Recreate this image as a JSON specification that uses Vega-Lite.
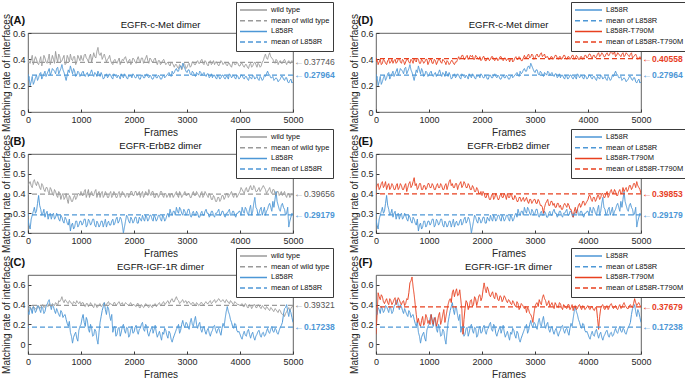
{
"$schema":"https://vega.github.io/schema/vega-lite/v6.json",
"padding":{"left":1,"top":1,"right":0,"bottom":0},
"background":"white",
"datasets":{
"met":[
{"f":0,"w":0.41,"l":0.24,"t":0.38},{"f":40,"w":0.37,"l":0.20,"t":0.36},{"f":80,"w":0.43,"l":0.27,"t":0.40},{"f":120,"w":0.39,"l":0.23,"t":0.37},{"f":160,"w":0.40,"l":0.28,"t":0.39},{"f":200,"w":0.36,"l":0.26,"t":0.36},{"f":240,"w":0.42,"l":0.30,"t":0.40},{"f":280,"w":0.38,"l":0.27,"t":0.38},{"f":320,"w":0.41,"l":0.31,"t":0.37},{"f":360,"w":0.37,"l":0.29,"t":0.40},{"f":400,"w":0.44,"l":0.33,"t":0.38},{"f":440,"w":0.39,"l":0.30,"t":0.41},{"f":480,"w":0.40,"l":0.32,"t":0.37},{"f":520,"w":0.46,"l":0.29,"t":0.39},{"f":560,"w":0.38,"l":0.34,"t":0.38},{"f":600,"w":0.42,"l":0.31,"t":0.40},{"f":640,"w":0.39,"l":0.36,"t":0.37},{"f":680,"w":0.43,"l":0.30,"t":0.39},{"f":720,"w":0.37,"l":0.24,"t":0.41},{"f":760,"w":0.41,"l":0.32,"t":0.38},{"f":800,"w":0.44,"l":0.35,"t":0.40},{"f":840,"w":0.39,"l":0.29,"t":0.37},{"f":880,"w":0.42,"l":0.31,"t":0.39},{"f":920,"w":0.38,"l":0.28,"t":0.38},{"f":960,"w":0.41,"l":0.30,"t":0.40},
{"f":1000,"w":0.43,"l":0.28,"t":0.38},{"f":1040,"w":0.39,"l":0.31,"t":0.40},{"f":1080,"w":0.44,"l":0.27,"t":0.37},{"f":1120,"w":0.40,"l":0.30,"t":0.39},{"f":1160,"w":0.42,"l":0.28,"t":0.38},{"f":1200,"w":0.38,"l":0.32,"t":0.40},{"f":1240,"w":0.45,"l":0.27,"t":0.37},{"f":1280,"w":0.41,"l":0.29,"t":0.39},{"f":1320,"w":0.49,"l":0.31,"t":0.36},{"f":1360,"w":0.43,"l":0.27,"t":0.38},{"f":1400,"w":0.40,"l":0.28,"t":0.37},{"f":1440,"w":0.44,"l":0.26,"t":0.39},{"f":1480,"w":0.38,"l":0.29,"t":0.36},{"f":1520,"w":0.41,"l":0.27,"t":0.38},{"f":1560,"w":0.39,"l":0.28,"t":0.42},{"f":1600,"w":0.36,"l":0.25,"t":0.41},{"f":1640,"w":0.40,"l":0.28,"t":0.43},{"f":1680,"w":0.37,"l":0.26,"t":0.40},{"f":1720,"w":0.41,"l":0.27,"t":0.43},{"f":1760,"w":0.38,"l":0.29,"t":0.41},{"f":1800,"w":0.39,"l":0.26,"t":0.42},{"f":1840,"w":0.42,"l":0.28,"t":0.40},{"f":1880,"w":0.37,"l":0.25,"t":0.43},{"f":1920,"w":0.40,"l":0.27,"t":0.41},{"f":1960,"w":0.38,"l":0.26,"t":0.42},
{"f":2000,"w":0.40,"l":0.28,"t":0.40},{"f":2040,"w":0.37,"l":0.26,"t":0.42},{"f":2080,"w":0.42,"l":0.27,"t":0.39},{"f":2120,"w":0.38,"l":0.25,"t":0.41},{"f":2160,"w":0.41,"l":0.28,"t":0.40},{"f":2200,"w":0.39,"l":0.26,"t":0.42},{"f":2240,"w":0.43,"l":0.29,"t":0.39},{"f":2280,"w":0.37,"l":0.26,"t":0.41},{"f":2320,"w":0.40,"l":0.27,"t":0.40},{"f":2360,"w":0.38,"l":0.25,"t":0.42},{"f":2400,"w":0.41,"l":0.28,"t":0.39},{"f":2440,"w":0.36,"l":0.26,"t":0.41},{"f":2480,"w":0.39,"l":0.27,"t":0.40},{"f":2520,"w":0.37,"l":0.25,"t":0.38},{"f":2560,"w":0.40,"l":0.28,"t":0.41},{"f":2600,"w":0.36,"l":0.27,"t":0.39},{"f":2640,"w":0.38,"l":0.29,"t":0.42},{"f":2680,"w":0.35,"l":0.28,"t":0.40},{"f":2720,"w":0.37,"l":0.31,"t":0.41},{"f":2760,"w":0.34,"l":0.30,"t":0.39},{"f":2800,"w":0.36,"l":0.33,"t":0.43},{"f":2840,"w":0.33,"l":0.31,"t":0.41},{"f":2880,"w":0.35,"l":0.35,"t":0.44},{"f":2920,"w":0.34,"l":0.37,"t":0.42},{"f":2960,"w":0.36,"l":0.33,"t":0.43},
{"f":3000,"w":0.34,"l":0.30,"t":0.41},{"f":3040,"w":0.37,"l":0.32,"t":0.44},{"f":3080,"w":0.35,"l":0.28,"t":0.42},{"f":3120,"w":0.38,"l":0.30,"t":0.45},{"f":3160,"w":0.36,"l":0.27,"t":0.43},{"f":3200,"w":0.39,"l":0.29,"t":0.41},{"f":3240,"w":0.37,"l":0.31,"t":0.42},{"f":3280,"w":0.40,"l":0.28,"t":0.40},{"f":3320,"w":0.36,"l":0.30,"t":0.42},{"f":3360,"w":0.38,"l":0.27,"t":0.41},{"f":3400,"w":0.35,"l":0.29,"t":0.43},{"f":3440,"w":0.39,"l":0.27,"t":0.40},{"f":3480,"w":0.37,"l":0.26,"t":0.42},{"f":3520,"w":0.36,"l":0.28,"t":0.41},{"f":3560,"w":0.38,"l":0.25,"t":0.43},{"f":3600,"w":0.35,"l":0.27,"t":0.40},{"f":3640,"w":0.39,"l":0.26,"t":0.42},{"f":3680,"w":0.36,"l":0.28,"t":0.41},{"f":3720,"w":0.38,"l":0.25,"t":0.43},{"f":3760,"w":0.35,"l":0.27,"t":0.41},{"f":3800,"w":0.37,"l":0.29,"t":0.42},{"f":3840,"w":0.34,"l":0.26,"t":0.40},{"f":3880,"w":0.38,"l":0.28,"t":0.42},{"f":3920,"w":0.36,"l":0.25,"t":0.41},{"f":3960,"w":0.37,"l":0.27,"t":0.43},
{"f":4000,"w":0.35,"l":0.26,"t":0.42},{"f":4040,"w":0.37,"l":0.28,"t":0.44},{"f":4080,"w":0.34,"l":0.25,"t":0.41},{"f":4120,"w":0.36,"l":0.27,"t":0.43},{"f":4160,"w":0.33,"l":0.24,"t":0.42},{"f":4200,"w":0.37,"l":0.26,"t":0.45},{"f":4240,"w":0.35,"l":0.28,"t":0.43},{"f":4280,"w":0.38,"l":0.25,"t":0.44},{"f":4320,"w":0.34,"l":0.27,"t":0.42},{"f":4360,"w":0.36,"l":0.24,"t":0.45},{"f":4400,"w":0.35,"l":0.26,"t":0.43},{"f":4440,"w":0.39,"l":0.25,"t":0.47},{"f":4480,"w":0.44,"l":0.27,"t":0.44},{"f":4520,"w":0.40,"l":0.31,"t":0.42},{"f":4560,"w":0.45,"l":0.28,"t":0.45},{"f":4600,"w":0.41,"l":0.26,"t":0.43},{"f":4640,"w":0.38,"l":0.24,"t":0.44},{"f":4680,"w":0.40,"l":0.26,"t":0.42},{"f":4720,"w":0.36,"l":0.23,"t":0.45},{"f":4760,"w":0.39,"l":0.25,"t":0.43},{"f":4800,"w":0.37,"l":0.27,"t":0.44},{"f":4840,"w":0.40,"l":0.24,"t":0.41},{"f":4880,"w":0.36,"l":0.26,"t":0.43},{"f":4920,"w":0.39,"l":0.22,"t":0.42},{"f":4960,"w":0.37,"l":0.25,"t":0.41},{"f":5000,"w":0.38,"l":0.23,"t":0.40},
{"f":20,"w":0.38,"l":0.27,"t":0.40},{"f":60,"w":0.40,"l":0.23,"t":0.38},{"f":100,"w":0.36,"l":0.21,"t":0.36},{"f":140,"w":0.42,"l":0.26,"t":0.40},{"f":180,"w":0.37,"l":0.24,"t":0.37},{"f":220,"w":0.39,"l":0.29,"t":0.39},{"f":260,"w":0.35,"l":0.25,"t":0.37},{"f":300,"w":0.43,"l":0.29,"t":0.40},{"f":340,"w":0.38,"l":0.27,"t":0.39},{"f":380,"w":0.40,"l":0.31,"t":0.37},{"f":420,"w":0.36,"l":0.28,"t":0.40},{"f":460,"w":0.43,"l":0.33,"t":0.38},{"f":500,"w":0.37,"l":0.31,"t":0.40},{"f":540,"w":0.41,"l":0.33,"t":0.36},{"f":580,"w":0.44,"l":0.29,"t":0.40},{"f":620,"w":0.38,"l":0.33,"t":0.38},{"f":660,"w":0.41,"l":0.32,"t":0.40},{"f":700,"w":0.36,"l":0.27,"t":0.37},{"f":740,"w":0.43,"l":0.28,"t":0.39},{"f":780,"w":0.38,"l":0.30,"t":0.41},{"f":820,"w":0.40,"l":0.32,"t":0.37},{"f":860,"w":0.42,"l":0.33,"t":0.40},{"f":900,"w":0.36,"l":0.27,"t":0.37},{"f":940,"w":0.43,"l":0.31,"t":0.40},{"f":980,"w":0.39,"l":0.27,"t":0.36},
{"f":1020,"w":0.40,"l":0.30,"t":0.40},{"f":1060,"w":0.43,"l":0.28,"t":0.37},{"f":1100,"w":0.41,"l":0.29,"t":0.40},{"f":1140,"w":0.38,"l":0.27,"t":0.36},{"f":1180,"w":0.44,"l":0.30,"t":0.40},{"f":1220,"w":0.41,"l":0.29,"t":0.38},{"f":1260,"w":0.42,"l":0.30,"t":0.40},{"f":1300,"w":0.46,"l":0.27,"t":0.38},{"f":1340,"w":0.44,"l":0.29,"t":0.39},{"f":1380,"w":0.45,"l":0.30,"t":0.36},{"f":1420,"w":0.42,"l":0.25,"t":0.39},{"f":1460,"w":0.41,"l":0.28,"t":0.37},{"f":1500,"w":0.40,"l":0.26,"t":0.38},{"f":1540,"w":0.43,"l":0.29,"t":0.40},{"f":1580,"w":0.37,"l":0.26,"t":0.40},{"f":1620,"w":0.39,"l":0.29,"t":0.43},{"f":1660,"w":0.38,"l":0.27,"t":0.40},{"f":1700,"w":0.39,"l":0.28,"t":0.42},{"f":1740,"w":0.36,"l":0.25,"t":0.40},{"f":1780,"w":0.40,"l":0.27,"t":0.43},{"f":1820,"w":0.41,"l":0.29,"t":0.43},{"f":1860,"w":0.39,"l":0.26,"t":0.40},{"f":1900,"w":0.39,"l":0.28,"t":0.42},{"f":1940,"w":0.36,"l":0.28,"t":0.40},{"f":1980,"w":0.41,"l":0.29,"t":0.39},
{"f":2020,"w":0.38,"l":0.26,"t":0.42},{"f":2060,"w":0.40,"l":0.28,"t":0.39},{"f":2100,"w":0.39,"l":0.25,"t":0.41},{"f":2140,"w":0.41,"l":0.28,"t":0.39},{"f":2180,"w":0.37,"l":0.26,"t":0.42},{"f":2220,"w":0.41,"l":0.28,"t":0.40},{"f":2260,"w":0.39,"l":0.27,"t":0.41},{"f":2300,"w":0.41,"l":0.28,"t":0.39},{"f":2340,"w":0.38,"l":0.25,"t":0.42},{"f":2380,"w":0.40,"l":0.27,"t":0.40},{"f":2420,"w":0.38,"l":0.26,"t":0.41},{"f":2460,"w":0.39,"l":0.28,"t":0.39},{"f":2500,"w":0.36,"l":0.25,"t":0.41},{"f":2540,"w":0.39,"l":0.27,"t":0.40},{"f":2580,"w":0.38,"l":0.26,"t":0.38},{"f":2620,"w":0.37,"l":0.28,"t":0.41},{"f":2660,"w":0.36,"l":0.30,"t":0.40},{"f":2700,"w":0.38,"l":0.27,"t":0.42},{"f":2740,"w":0.36,"l":0.29,"t":0.39},{"f":2780,"w":0.36,"l":0.32,"t":0.41},{"f":2820,"w":0.34,"l":0.31,"t":0.41},{"f":2860,"w":0.36,"l":0.34,"t":0.43},{"f":2900,"w":0.32,"l":0.33,"t":0.41},{"f":2940,"w":0.37,"l":0.35,"t":0.44},{"f":2980,"w":0.33,"l":0.31,"t":0.40},
{"f":3020,"w":0.36,"l":0.32,"t":0.43},{"f":3060,"w":0.34,"l":0.29,"t":0.42},{"f":3100,"w":0.38,"l":0.31,"t":0.44},{"f":3140,"w":0.36,"l":0.28,"t":0.42},{"f":3180,"w":0.38,"l":0.30,"t":0.44},{"f":3220,"w":0.37,"l":0.28,"t":0.42},{"f":3260,"w":0.39,"l":0.30,"t":0.40},{"f":3300,"w":0.37,"l":0.29,"t":0.42},{"f":3340,"w":0.39,"l":0.28,"t":0.40},{"f":3380,"w":0.36,"l":0.29,"t":0.43},{"f":3420,"w":0.38,"l":0.26,"t":0.41},{"f":3460,"w":0.36,"l":0.29,"t":0.42},{"f":3500,"w":0.39,"l":0.28,"t":0.40},{"f":3540,"w":0.38,"l":0.26,"t":0.43},{"f":3580,"w":0.36,"l":0.28,"t":0.41},{"f":3620,"w":0.37,"l":0.25,"t":0.42},{"f":3660,"w":0.38,"l":0.28,"t":0.40},{"f":3700,"w":0.37,"l":0.26,"t":0.43},{"f":3740,"w":0.36,"l":0.27,"t":0.40},{"f":3780,"w":0.37,"l":0.25,"t":0.43},{"f":3820,"w":0.35,"l":0.28,"t":0.40},{"f":3860,"w":0.37,"l":0.27,"t":0.42},{"f":3900,"w":0.36,"l":0.26,"t":0.40},{"f":3940,"w":0.38,"l":0.28,"t":0.43},{"f":3980,"w":0.35,"l":0.25,"t":0.41},
{"f":4020,"w":0.37,"l":0.28,"t":0.44},{"f":4060,"w":0.35,"l":0.26,"t":0.42},{"f":4100,"w":0.36,"l":0.27,"t":0.43},{"f":4140,"w":0.34,"l":0.25,"t":0.41},{"f":4180,"w":0.36,"l":0.27,"t":0.44},{"f":4220,"w":0.34,"l":0.25,"t":0.42},{"f":4260,"w":0.37,"l":0.27,"t":0.45},{"f":4300,"w":0.36,"l":0.26,"t":0.42},{"f":4340,"w":0.37,"l":0.25,"t":0.44},{"f":4380,"w":0.34,"l":0.27,"t":0.43},{"f":4420,"w":0.38,"l":0.24,"t":0.45},{"f":4460,"w":0.42,"l":0.28,"t":0.44},{"f":4500,"w":0.41,"l":0.29,"t":0.46},{"f":4540,"w":0.43,"l":0.29,"t":0.43},{"f":4580,"w":0.42,"l":0.26,"t":0.44},{"f":4620,"w":0.40,"l":0.27,"t":0.42},{"f":4660,"w":0.37,"l":0.25,"t":0.45},{"f":4700,"w":0.39,"l":0.25,"t":0.43},{"f":4740,"w":0.38,"l":0.24,"t":0.44},{"f":4780,"w":0.37,"l":0.27,"t":0.42},{"f":4820,"w":0.39,"l":0.25,"t":0.45},{"f":4860,"w":0.38,"l":0.26,"t":0.42},{"f":4900,"w":0.38,"l":0.23,"t":0.44},{"f":4940,"w":0.37,"l":0.24,"t":0.40},{"f":4980,"w":0.39,"l":0.22,"t":0.42}
],
"erb":[
{"f":0,"w":0.44,"l":0.27,"t":0.42},{"f":40,"w":0.46,"l":0.22,"t":0.45},{"f":80,"w":0.43,"l":0.29,"t":0.43},{"f":120,"w":0.47,"l":0.33,"t":0.46},{"f":160,"w":0.44,"l":0.31,"t":0.44},{"f":200,"w":0.45,"l":0.39,"t":0.42},{"f":240,"w":0.42,"l":0.32,"t":0.45},{"f":280,"w":0.44,"l":0.30,"t":0.43},{"f":320,"w":0.41,"l":0.28,"t":0.44},{"f":360,"w":0.43,"l":0.31,"t":0.42},{"f":400,"w":0.40,"l":0.29,"t":0.45},{"f":440,"w":0.42,"l":0.27,"t":0.43},{"f":480,"w":0.39,"l":0.30,"t":0.44},{"f":520,"w":0.41,"l":0.28,"t":0.42},{"f":560,"w":0.38,"l":0.29,"t":0.45},{"f":600,"w":0.40,"l":0.26,"t":0.43},{"f":640,"w":0.39,"l":0.28,"t":0.46},{"f":680,"w":0.37,"l":0.25,"t":0.44},{"f":720,"w":0.40,"l":0.27,"t":0.48},{"f":760,"w":0.35,"l":0.24,"t":0.45},{"f":800,"w":0.38,"l":0.21,"t":0.43},{"f":840,"w":0.36,"l":0.25,"t":0.45},{"f":880,"w":0.39,"l":0.23,"t":0.42},{"f":920,"w":0.38,"l":0.26,"t":0.44},{"f":960,"w":0.40,"l":0.24,"t":0.43},
{"f":1000,"w":0.41,"l":0.26,"t":0.45},{"f":1040,"w":0.39,"l":0.25,"t":0.43},{"f":1080,"w":0.42,"l":0.27,"t":0.44},{"f":1120,"w":0.40,"l":0.24,"t":0.42},{"f":1160,"w":0.38,"l":0.26,"t":0.45},{"f":1200,"w":0.41,"l":0.25,"t":0.43},{"f":1240,"w":0.39,"l":0.27,"t":0.44},{"f":1280,"w":0.42,"l":0.23,"t":0.42},{"f":1320,"w":0.40,"l":0.25,"t":0.45},{"f":1360,"w":0.38,"l":0.24,"t":0.44},{"f":1400,"w":0.41,"l":0.26,"t":0.47},{"f":1440,"w":0.39,"l":0.25,"t":0.45},{"f":1480,"w":0.40,"l":0.23,"t":0.43},{"f":1520,"w":0.38,"l":0.26,"t":0.45},{"f":1560,"w":0.41,"l":0.24,"t":0.44},{"f":1600,"w":0.39,"l":0.27,"t":0.46},{"f":1640,"w":0.40,"l":0.25,"t":0.44},{"f":1680,"w":0.38,"l":0.28,"t":0.45},{"f":1720,"w":0.41,"l":0.26,"t":0.43},{"f":1760,"w":0.39,"l":0.27,"t":0.44},{"f":1800,"w":0.40,"l":0.20,"t":0.42},{"f":1840,"w":0.38,"l":0.26,"t":0.43},{"f":1880,"w":0.40,"l":0.28,"t":0.41},{"f":1920,"w":0.39,"l":0.25,"t":0.42},{"f":1960,"w":0.41,"l":0.27,"t":0.40},
{"f":2000,"w":0.39,"l":0.26,"t":0.39},{"f":2040,"w":0.41,"l":0.28,"t":0.40},{"f":2080,"w":0.40,"l":0.25,"t":0.38},{"f":2120,"w":0.38,"l":0.27,"t":0.39},{"f":2160,"w":0.41,"l":0.29,"t":0.37},{"f":2200,"w":0.39,"l":0.26,"t":0.40},{"f":2240,"w":0.40,"l":0.28,"t":0.38},{"f":2280,"w":0.42,"l":0.27,"t":0.39},{"f":2320,"w":0.39,"l":0.29,"t":0.37},{"f":2360,"w":0.41,"l":0.26,"t":0.40},{"f":2400,"w":0.38,"l":0.28,"t":0.38},{"f":2440,"w":0.40,"l":0.27,"t":0.39},{"f":2480,"w":0.39,"l":0.29,"t":0.40},{"f":2520,"w":0.41,"l":0.26,"t":0.38},{"f":2560,"w":0.38,"l":0.28,"t":0.39},{"f":2600,"w":0.40,"l":0.27,"t":0.37},{"f":2640,"w":0.39,"l":0.30,"t":0.38},{"f":2680,"w":0.38,"l":0.32,"t":0.36},{"f":2720,"w":0.40,"l":0.29,"t":0.38},{"f":2760,"w":0.39,"l":0.31,"t":0.37},{"f":2800,"w":0.41,"l":0.33,"t":0.36},{"f":2840,"w":0.38,"l":0.30,"t":0.38},{"f":2880,"w":0.40,"l":0.32,"t":0.35},{"f":2920,"w":0.39,"l":0.29,"t":0.37},{"f":2960,"w":0.41,"l":0.31,"t":0.36},
{"f":3000,"w":0.39,"l":0.30,"t":0.37},{"f":3040,"w":0.40,"l":0.32,"t":0.35},{"f":3080,"w":0.38,"l":0.28,"t":0.36},{"f":3120,"w":0.41,"l":0.31,"t":0.34},{"f":3160,"w":0.39,"l":0.29,"t":0.30},{"f":3200,"w":0.40,"l":0.30,"t":0.35},{"f":3240,"w":0.38,"l":0.28,"t":0.37},{"f":3280,"w":0.41,"l":0.31,"t":0.34},{"f":3320,"w":0.39,"l":0.29,"t":0.36},{"f":3360,"w":0.40,"l":0.32,"t":0.35},{"f":3400,"w":0.38,"l":0.30,"t":0.33},{"f":3440,"w":0.39,"l":0.29,"t":0.35},{"f":3480,"w":0.37,"l":0.31,"t":0.34},{"f":3520,"w":0.38,"l":0.28,"t":0.32},{"f":3560,"w":0.36,"l":0.30,"t":0.35},{"f":3600,"w":0.38,"l":0.32,"t":0.33},{"f":3640,"w":0.37,"l":0.29,"t":0.34},{"f":3680,"w":0.39,"l":0.31,"t":0.32},{"f":3720,"w":0.38,"l":0.28,"t":0.28},{"f":3760,"w":0.40,"l":0.30,"t":0.33},{"f":3800,"w":0.39,"l":0.32,"t":0.32},{"f":3840,"w":0.41,"l":0.29,"t":0.35},{"f":3880,"w":0.38,"l":0.31,"t":0.34},{"f":3920,"w":0.40,"l":0.28,"t":0.36},{"f":3960,"w":0.39,"l":0.30,"t":0.35},
{"f":4000,"w":0.41,"l":0.31,"t":0.37},{"f":4040,"w":0.42,"l":0.33,"t":0.39},{"f":4080,"w":0.40,"l":0.30,"t":0.36},{"f":4120,"w":0.43,"l":0.32,"t":0.38},{"f":4160,"w":0.41,"l":0.29,"t":0.37},{"f":4200,"w":0.44,"l":0.34,"t":0.39},{"f":4240,"w":0.42,"l":0.31,"t":0.38},{"f":4280,"w":0.43,"l":0.38,"t":0.40},{"f":4320,"w":0.41,"l":0.32,"t":0.38},{"f":4360,"w":0.43,"l":0.30,"t":0.41},{"f":4400,"w":0.42,"l":0.33,"t":0.39},{"f":4440,"w":0.44,"l":0.31,"t":0.42},{"f":4480,"w":0.42,"l":0.29,"t":0.40},{"f":4520,"w":0.41,"l":0.32,"t":0.41},{"f":4560,"w":0.43,"l":0.35,"t":0.39},{"f":4600,"w":0.40,"l":0.31,"t":0.42},{"f":4640,"w":0.42,"l":0.33,"t":0.40},{"f":4680,"w":0.39,"l":0.41,"t":0.41},{"f":4720,"w":0.41,"l":0.34,"t":0.43},{"f":4760,"w":0.40,"l":0.31,"t":0.42},{"f":4800,"w":0.39,"l":0.35,"t":0.44},{"f":4840,"w":0.41,"l":0.32,"t":0.43},{"f":4880,"w":0.38,"l":0.30,"t":0.45},{"f":4920,"w":0.40,"l":0.23,"t":0.46},{"f":4960,"w":0.39,"l":0.28,"t":0.43},{"f":5000,"w":0.39,"l":0.29,"t":0.40},
{"f":20,"w":0.45,"l":0.24,"t":0.44},{"f":60,"w":0.44,"l":0.27,"t":0.42},{"f":100,"w":0.46,"l":0.31,"t":0.45},{"f":140,"w":0.45,"l":0.30,"t":0.43},{"f":180,"w":0.46,"l":0.35,"t":0.46},{"f":220,"w":0.43,"l":0.34,"t":0.44},{"f":260,"w":0.45,"l":0.29,"t":0.42},{"f":300,"w":0.42,"l":0.32,"t":0.45},{"f":340,"w":0.43,"l":0.30,"t":0.42},{"f":380,"w":0.41,"l":0.27,"t":0.44},{"f":420,"w":0.43,"l":0.30,"t":0.42},{"f":460,"w":0.40,"l":0.29,"t":0.45},{"f":500,"w":0.42,"l":0.27,"t":0.42},{"f":540,"w":0.39,"l":0.30,"t":0.44},{"f":580,"w":0.41,"l":0.27,"t":0.41},{"f":620,"w":0.37,"l":0.29,"t":0.45},{"f":660,"w":0.40,"l":0.26,"t":0.43},{"f":700,"w":0.38,"l":0.28,"t":0.46},{"f":740,"w":0.37,"l":0.25,"t":0.44},{"f":780,"w":0.39,"l":0.27,"t":0.42},{"f":820,"w":0.36,"l":0.24,"t":0.45},{"f":860,"w":0.38,"l":0.22,"t":0.42},{"f":900,"w":0.37,"l":0.26,"t":0.44},{"f":940,"w":0.40,"l":0.23,"t":0.42},{"f":980,"w":0.39,"l":0.26,"t":0.45},
{"f":1020,"w":0.39,"l":0.24,"t":0.43},{"f":1060,"w":0.41,"l":0.27,"t":0.45},{"f":1100,"w":0.38,"l":0.23,"t":0.42},{"f":1140,"w":0.42,"l":0.27,"t":0.44},{"f":1180,"w":0.40,"l":0.24,"t":0.43},{"f":1220,"w":0.39,"l":0.27,"t":0.45},{"f":1260,"w":0.41,"l":0.24,"t":0.42},{"f":1300,"w":0.38,"l":0.26,"t":0.44},{"f":1340,"w":0.41,"l":0.23,"t":0.42},{"f":1380,"w":0.40,"l":0.26,"t":0.46},{"f":1420,"w":0.38,"l":0.23,"t":0.44},{"f":1460,"w":0.41,"l":0.27,"t":0.43},{"f":1500,"w":0.38,"l":0.25,"t":0.45},{"f":1540,"w":0.40,"l":0.24,"t":0.42},{"f":1580,"w":0.38,"l":0.26,"t":0.45},{"f":1620,"w":0.41,"l":0.24,"t":0.43},{"f":1660,"w":0.38,"l":0.27,"t":0.46},{"f":1700,"w":0.40,"l":0.25,"t":0.43},{"f":1740,"w":0.38,"l":0.28,"t":0.45},{"f":1780,"w":0.41,"l":0.24,"t":0.42},{"f":1820,"w":0.39,"l":0.23,"t":0.44},{"f":1860,"w":0.40,"l":0.29,"t":0.41},{"f":1900,"w":0.38,"l":0.26,"t":0.43},{"f":1940,"w":0.41,"l":0.28,"t":0.40},{"f":1980,"w":0.39,"l":0.25,"t":0.41},
{"f":2020,"w":0.41,"l":0.28,"t":0.41},{"f":2060,"w":0.39,"l":0.25,"t":0.38},{"f":2100,"w":0.41,"l":0.28,"t":0.40},{"f":2140,"w":0.40,"l":0.26,"t":0.37},{"f":2180,"w":0.38,"l":0.27,"t":0.39},{"f":2220,"w":0.41,"l":0.29,"t":0.37},{"f":2260,"w":0.39,"l":0.26,"t":0.40},{"f":2300,"w":0.40,"l":0.29,"t":0.37},{"f":2340,"w":0.41,"l":0.27,"t":0.39},{"f":2380,"w":0.38,"l":0.29,"t":0.38},{"f":2420,"w":0.40,"l":0.26,"t":0.40},{"f":2460,"w":0.38,"l":0.29,"t":0.37},{"f":2500,"w":0.41,"l":0.27,"t":0.38},{"f":2540,"w":0.39,"l":0.29,"t":0.40},{"f":2580,"w":0.40,"l":0.26,"t":0.37},{"f":2620,"w":0.38,"l":0.29,"t":0.39},{"f":2660,"w":0.40,"l":0.28,"t":0.36},{"f":2700,"w":0.40,"l":0.30,"t":0.38},{"f":2740,"w":0.38,"l":0.31,"t":0.36},{"f":2780,"w":0.40,"l":0.29,"t":0.38},{"f":2820,"w":0.39,"l":0.31,"t":0.37},{"f":2860,"w":0.41,"l":0.33,"t":0.36},{"f":2900,"w":0.38,"l":0.30,"t":0.37},{"f":2940,"w":0.40,"l":0.32,"t":0.35},{"f":2980,"w":0.39,"l":0.29,"t":0.37},
{"f":3020,"w":0.40,"l":0.32,"t":0.35},{"f":3060,"w":0.38,"l":0.29,"t":0.37},{"f":3100,"w":0.40,"l":0.30,"t":0.34},{"f":3140,"w":0.39,"l":0.29,"t":0.33},{"f":3180,"w":0.41,"l":0.31,"t":0.33},{"f":3220,"w":0.39,"l":0.28,"t":0.36},{"f":3260,"w":0.40,"l":0.30,"t":0.34},{"f":3300,"w":0.38,"l":0.29,"t":0.36},{"f":3340,"w":0.41,"l":0.31,"t":0.34},{"f":3380,"w":0.39,"l":0.30,"t":0.33},{"f":3420,"w":0.40,"l":0.28,"t":0.35},{"f":3460,"w":0.37,"l":0.31,"t":0.33},{"f":3500,"w":0.39,"l":0.29,"t":0.32},{"f":3540,"w":0.36,"l":0.30,"t":0.34},{"f":3580,"w":0.38,"l":0.31,"t":0.34},{"f":3620,"w":0.36,"l":0.29,"t":0.35},{"f":3660,"w":0.39,"l":0.31,"t":0.32},{"f":3700,"w":0.37,"l":0.29,"t":0.30},{"f":3740,"w":0.40,"l":0.30,"t":0.31},{"f":3780,"w":0.38,"l":0.31,"t":0.30},{"f":3820,"w":0.40,"l":0.29,"t":0.34},{"f":3860,"w":0.39,"l":0.31,"t":0.33},{"f":3900,"w":0.40,"l":0.29,"t":0.36},{"f":3940,"w":0.38,"l":0.30,"t":0.34},{"f":3980,"w":0.40,"l":0.31,"t":0.36},
{"f":4020,"w":0.43,"l":0.29,"t":0.39},{"f":4060,"w":0.41,"l":0.31,"t":0.37},{"f":4100,"w":0.42,"l":0.33,"t":0.38},{"f":4140,"w":0.41,"l":0.30,"t":0.36},{"f":4180,"w":0.43,"l":0.32,"t":0.39},{"f":4220,"w":0.42,"l":0.29,"t":0.37},{"f":4260,"w":0.44,"l":0.35,"t":0.40},{"f":4300,"w":0.41,"l":0.33,"t":0.38},{"f":4340,"w":0.42,"l":0.29,"t":0.40},{"f":4380,"w":0.41,"l":0.32,"t":0.38},{"f":4420,"w":0.43,"l":0.29,"t":0.41},{"f":4460,"w":0.43,"l":0.33,"t":0.40},{"f":4500,"w":0.40,"l":0.31,"t":0.42},{"f":4540,"w":0.42,"l":0.34,"t":0.39},{"f":4580,"w":0.41,"l":0.33,"t":0.41},{"f":4620,"w":0.42,"l":0.36,"t":0.40},{"f":4660,"w":0.40,"l":0.37,"t":0.43},{"f":4700,"w":0.41,"l":0.36,"t":0.42},{"f":4740,"w":0.39,"l":0.32,"t":0.41},{"f":4780,"w":0.41,"l":0.34,"t":0.44},{"f":4820,"w":0.40,"l":0.33,"t":0.42},{"f":4860,"w":0.39,"l":0.29,"t":0.45},{"f":4900,"w":0.40,"l":0.33,"t":0.43},{"f":4940,"w":0.38,"l":0.26,"t":0.44},{"f":4980,"w":0.40,"l":0.30,"t":0.42}
],
"igf":[
{"f":0,"w":0.35,"l":0.33,"t":0.10},{"f":40,"w":0.38,"l":0.37,"t":0.52},{"f":80,"w":0.36,"l":0.31,"t":0.45},{"f":120,"w":0.37,"l":0.36,"t":0.48},{"f":160,"w":0.35,"l":0.34,"t":0.41},{"f":200,"w":0.39,"l":0.38,"t":0.46},{"f":240,"w":0.37,"l":0.32,"t":0.40},{"f":280,"w":0.40,"l":0.36,"t":0.44},{"f":320,"w":0.38,"l":0.33,"t":0.42},{"f":360,"w":0.39,"l":0.40,"t":0.47},{"f":400,"w":0.41,"l":0.45,"t":0.43},{"f":440,"w":0.38,"l":0.35,"t":0.45},{"f":480,"w":0.40,"l":0.38,"t":0.40},{"f":520,"w":0.42,"l":0.31,"t":0.44},{"f":560,"w":0.39,"l":0.33,"t":0.41},{"f":600,"w":0.43,"l":0.28,"t":0.45},{"f":640,"w":0.48,"l":0.32,"t":0.62},{"f":680,"w":0.42,"l":0.29,"t":0.68},{"f":720,"w":0.44,"l":0.25,"t":0.50},{"f":760,"w":0.41,"l":0.18,"t":0.30},{"f":800,"w":0.43,"l":0.12,"t":0.26},{"f":840,"w":0.40,"l":0.01,"t":0.18},{"f":880,"w":0.42,"l":0.10,"t":0.28},{"f":920,"w":0.44,"l":0.06,"t":0.22},{"f":960,"w":0.41,"l":0.14,"t":0.27},
{"f":1000,"w":0.40,"l":0.20,"t":0.24},{"f":1040,"w":0.42,"l":0.30,"t":0.30},{"f":1080,"w":0.38,"l":0.18,"t":0.20},{"f":1120,"w":0.41,"l":0.24,"t":0.27},{"f":1160,"w":0.39,"l":0.12,"t":0.22},{"f":1200,"w":0.40,"l":0.16,"t":0.32},{"f":1240,"w":0.37,"l":0.09,"t":0.24},{"f":1280,"w":0.40,"l":0.13,"t":0.35},{"f":1320,"w":0.38,"l":0.00,"t":0.28},{"f":1360,"w":0.41,"l":0.22,"t":0.40},{"f":1400,"w":0.39,"l":0.34,"t":0.46},{"f":1440,"w":0.42,"l":0.42,"t":0.52},{"f":1480,"w":0.40,"l":0.30,"t":0.48},{"f":1520,"w":0.43,"l":0.36,"t":0.56},{"f":1560,"w":0.41,"l":0.24,"t":0.50},{"f":1600,"w":0.39,"l":0.12,"t":0.45},{"f":1640,"w":0.42,"l":0.18,"t":0.10},{"f":1680,"w":0.40,"l":0.10,"t":0.36},{"f":1720,"w":0.43,"l":0.17,"t":0.42},{"f":1760,"w":0.41,"l":0.12,"t":0.38},{"f":1800,"w":0.39,"l":0.20,"t":0.45},{"f":1840,"w":0.42,"l":0.11,"t":0.40},{"f":1880,"w":0.40,"l":0.16,"t":0.46},{"f":1920,"w":0.41,"l":0.09,"t":0.43},{"f":1960,"w":0.39,"l":0.18,"t":0.50},
{"f":2000,"w":0.40,"l":0.12,"t":0.47},{"f":2040,"w":0.38,"l":0.19,"t":0.62},{"f":2080,"w":0.41,"l":0.10,"t":0.52},{"f":2120,"w":0.37,"l":0.16,"t":0.55},{"f":2160,"w":0.39,"l":0.22,"t":0.48},{"f":2200,"w":0.38,"l":0.13,"t":0.53},{"f":2240,"w":0.40,"l":0.18,"t":0.46},{"f":2280,"w":0.37,"l":0.08,"t":0.50},{"f":2320,"w":0.39,"l":0.15,"t":0.44},{"f":2360,"w":0.38,"l":0.11,"t":0.48},{"f":2400,"w":0.41,"l":0.19,"t":0.45},{"f":2440,"w":0.39,"l":0.07,"t":0.47},{"f":2480,"w":0.42,"l":0.13,"t":0.42},{"f":2520,"w":0.40,"l":0.04,"t":0.44},{"f":2560,"w":0.43,"l":0.10,"t":0.40},{"f":2600,"w":0.41,"l":0.14,"t":0.42},{"f":2640,"w":0.44,"l":0.06,"t":0.38},{"f":2680,"w":0.42,"l":0.11,"t":0.41},{"f":2720,"w":0.46,"l":0.02,"t":0.37},{"f":2760,"w":0.43,"l":0.09,"t":0.40},{"f":2800,"w":0.48,"l":0.15,"t":0.36},{"f":2840,"w":0.44,"l":0.20,"t":0.32},{"f":2880,"w":0.42,"l":0.14,"t":0.35},{"f":2920,"w":0.45,"l":0.24,"t":0.30},{"f":2960,"w":0.43,"l":0.17,"t":0.22},
{"f":3000,"w":0.41,"l":0.21,"t":0.38},{"f":3040,"w":0.43,"l":0.15,"t":0.42},{"f":3080,"w":0.40,"l":0.26,"t":0.45},{"f":3120,"w":0.42,"l":0.18,"t":0.40},{"f":3160,"w":0.39,"l":0.28,"t":0.50},{"f":3200,"w":0.41,"l":0.16,"t":0.44},{"f":3240,"w":0.40,"l":0.22,"t":0.41},{"f":3280,"w":0.42,"l":0.12,"t":0.38},{"f":3320,"w":0.40,"l":0.18,"t":0.42},{"f":3360,"w":0.43,"l":0.10,"t":0.36},{"f":3400,"w":0.41,"l":0.16,"t":0.40},{"f":3440,"w":0.44,"l":0.08,"t":0.37},{"f":3480,"w":0.42,"l":0.14,"t":0.41},{"f":3520,"w":0.45,"l":0.19,"t":0.35},{"f":3560,"w":0.43,"l":0.11,"t":0.39},{"f":3600,"w":0.46,"l":0.16,"t":0.36},{"f":3640,"w":0.43,"l":0.09,"t":0.40},{"f":3680,"w":0.45,"l":0.21,"t":0.37},{"f":3720,"w":0.42,"l":0.26,"t":0.34},{"f":3760,"w":0.44,"l":0.38,"t":0.39},{"f":3800,"w":0.41,"l":0.30,"t":0.36},{"f":3840,"w":0.43,"l":0.22,"t":0.40},{"f":3880,"w":0.40,"l":0.16,"t":0.35},{"f":3920,"w":0.42,"l":0.20,"t":0.38},{"f":3960,"w":0.40,"l":0.12,"t":0.36},
{"f":4000,"w":0.39,"l":0.10,"t":0.39},{"f":4040,"w":0.41,"l":0.05,"t":0.35},{"f":4080,"w":0.38,"l":0.13,"t":0.38},{"f":4120,"w":0.40,"l":0.08,"t":0.34},{"f":4160,"w":0.37,"l":0.15,"t":0.37},{"f":4200,"w":0.39,"l":0.06,"t":0.15},{"f":4240,"w":0.38,"l":0.12,"t":0.36},{"f":4280,"w":0.40,"l":0.04,"t":0.40},{"f":4320,"w":0.37,"l":0.10,"t":0.35},{"f":4360,"w":0.39,"l":0.14,"t":0.39},{"f":4400,"w":0.36,"l":0.07,"t":0.37},{"f":4440,"w":0.38,"l":0.12,"t":0.41},{"f":4480,"w":0.35,"l":0.09,"t":0.36},{"f":4520,"w":0.37,"l":0.16,"t":0.39},{"f":4560,"w":0.34,"l":0.11,"t":0.35},{"f":4600,"w":0.36,"l":0.18,"t":0.40},{"f":4640,"w":0.33,"l":0.12,"t":0.37},{"f":4680,"w":0.35,"l":0.15,"t":0.42},{"f":4720,"w":0.32,"l":0.10,"t":0.38},{"f":4760,"w":0.34,"l":0.17,"t":0.36},{"f":4800,"w":0.30,"l":0.22,"t":0.40},{"f":4840,"w":0.28,"l":0.36,"t":0.37},{"f":4880,"w":0.33,"l":0.40,"t":0.46},{"f":4920,"w":0.37,"l":0.28,"t":0.39},{"f":4960,"w":0.36,"l":0.32,"t":0.42},{"f":5000,"w":0.38,"l":0.22,"t":0.38},
{"f":20,"w":0.37,"l":0.30,"t":0.30},{"f":60,"w":0.35,"l":0.35,"t":0.48},{"f":100,"w":0.38,"l":0.38,"t":0.50},{"f":140,"w":0.36,"l":0.32,"t":0.43},{"f":180,"w":0.38,"l":0.39,"t":0.44},{"f":220,"w":0.36,"l":0.35,"t":0.42},{"f":260,"w":0.39,"l":0.38,"t":0.46},{"f":300,"w":0.37,"l":0.31,"t":0.40},{"f":340,"w":0.40,"l":0.38,"t":0.45},{"f":380,"w":0.38,"l":0.43,"t":0.40},{"f":420,"w":0.39,"l":0.39,"t":0.47},{"f":460,"w":0.41,"l":0.40,"t":0.42},{"f":500,"w":0.39,"l":0.34,"t":0.43},{"f":540,"w":0.41,"l":0.36,"t":0.39},{"f":580,"w":0.44,"l":0.30,"t":0.46},{"f":620,"w":0.45,"l":0.34,"t":0.52},{"f":660,"w":0.44,"l":0.27,"t":0.64},{"f":700,"w":0.45,"l":0.30,"t":0.58},{"f":740,"w":0.42,"l":0.21,"t":0.40},{"f":780,"w":0.44,"l":0.23,"t":0.22},{"f":820,"w":0.41,"l":0.08,"t":0.20},{"f":860,"w":0.43,"l":0.07,"t":0.24},{"f":900,"w":0.41,"l":0.12,"t":0.19},{"f":940,"w":0.42,"l":0.03,"t":0.30},{"f":980,"w":0.43,"l":0.18,"t":0.21},
{"f":1020,"w":0.42,"l":0.26,"t":0.20},{"f":1060,"w":0.39,"l":0.22,"t":0.25},{"f":1100,"w":0.41,"l":0.27,"t":0.26},{"f":1140,"w":0.38,"l":0.15,"t":0.18},{"f":1180,"w":0.42,"l":0.20,"t":0.29},{"f":1220,"w":0.38,"l":0.08,"t":0.20},{"f":1260,"w":0.41,"l":0.15,"t":0.30},{"f":1300,"w":0.37,"l":0.05,"t":0.22},{"f":1340,"w":0.40,"l":0.12,"t":0.34},{"f":1380,"w":0.38,"l":0.28,"t":0.44},{"f":1420,"w":0.41,"l":0.38,"t":0.42},{"f":1460,"w":0.39,"l":0.35,"t":0.55},{"f":1500,"w":0.42,"l":0.38,"t":0.53},{"f":1540,"w":0.40,"l":0.29,"t":0.49},{"f":1580,"w":0.40,"l":0.30,"t":0.55},{"f":1620,"w":0.42,"l":0.17,"t":0.35},{"f":1660,"w":0.39,"l":0.08,"t":0.25},{"f":1700,"w":0.42,"l":0.16,"t":0.44},{"f":1740,"w":0.40,"l":0.08,"t":0.35},{"f":1780,"w":0.42,"l":0.18,"t":0.44},{"f":1820,"w":0.40,"l":0.14,"t":0.38},{"f":1860,"w":0.41,"l":0.17,"t":0.48},{"f":1900,"w":0.39,"l":0.07,"t":0.39},{"f":1940,"w":0.42,"l":0.15,"t":0.49},{"f":1980,"w":0.40,"l":0.11,"t":0.44},
{"f":2020,"w":0.39,"l":0.17,"t":0.55},{"f":2060,"w":0.41,"l":0.13,"t":0.56},{"f":2100,"w":0.37,"l":0.15,"t":0.58},{"f":2140,"w":0.40,"l":0.20,"t":0.50},{"f":2180,"w":0.37,"l":0.15,"t":0.51},{"f":2220,"w":0.41,"l":0.20,"t":0.48},{"f":2260,"w":0.38,"l":0.11,"t":0.52},{"f":2300,"w":0.40,"l":0.12,"t":0.45},{"f":2340,"w":0.37,"l":0.18,"t":0.49},{"f":2380,"w":0.40,"l":0.15,"t":0.43},{"f":2420,"w":0.38,"l":0.12,"t":0.49},{"f":2460,"w":0.41,"l":0.10,"t":0.44},{"f":2500,"w":0.39,"l":0.08,"t":0.45},{"f":2540,"w":0.42,"l":0.12,"t":0.41},{"f":2580,"w":0.40,"l":0.16,"t":0.44},{"f":2620,"w":0.43,"l":0.09,"t":0.39},{"f":2660,"w":0.41,"l":0.13,"t":0.43},{"f":2700,"w":0.45,"l":0.05,"t":0.35},{"f":2740,"w":0.43,"l":0.06,"t":0.41},{"f":2780,"w":0.46,"l":0.12,"t":0.38},{"f":2820,"w":0.45,"l":0.17,"t":0.38},{"f":2860,"w":0.41,"l":0.11,"t":0.37},{"f":2900,"w":0.44,"l":0.20,"t":0.31},{"f":2940,"w":0.42,"l":0.19,"t":0.27},{"f":2980,"w":0.44,"l":0.22,"t":0.31},
{"f":3020,"w":0.43,"l":0.17,"t":0.41},{"f":3060,"w":0.41,"l":0.22,"t":0.38},{"f":3100,"w":0.42,"l":0.20,"t":0.42},{"f":3140,"w":0.40,"l":0.24,"t":0.47},{"f":3180,"w":0.42,"l":0.20,"t":0.46},{"f":3220,"w":0.39,"l":0.20,"t":0.39},{"f":3260,"w":0.42,"l":0.15,"t":0.44},{"f":3300,"w":0.40,"l":0.16,"t":0.40},{"f":3340,"w":0.42,"l":0.13,"t":0.39},{"f":3380,"w":0.41,"l":0.14,"t":0.42},{"f":3420,"w":0.43,"l":0.11,"t":0.38},{"f":3460,"w":0.41,"l":0.12,"t":0.42},{"f":3500,"w":0.44,"l":0.18,"t":0.37},{"f":3540,"w":0.42,"l":0.14,"t":0.40},{"f":3580,"w":0.45,"l":0.15,"t":0.37},{"f":3620,"w":0.44,"l":0.12,"t":0.40},{"f":3660,"w":0.44,"l":0.16,"t":0.35},{"f":3700,"w":0.43,"l":0.18,"t":0.40},{"f":3740,"w":0.45,"l":0.33,"t":0.38},{"f":3780,"w":0.42,"l":0.33,"t":0.35},{"f":3820,"w":0.44,"l":0.25,"t":0.39},{"f":3860,"w":0.41,"l":0.18,"t":0.37},{"f":3900,"w":0.43,"l":0.21,"t":0.39},{"f":3940,"w":0.41,"l":0.14,"t":0.35},{"f":3980,"w":0.40,"l":0.13,"t":0.38},
{"f":4020,"w":0.40,"l":0.07,"t":0.36},{"f":4060,"w":0.38,"l":0.10,"t":0.38},{"f":4100,"w":0.41,"l":0.09,"t":0.35},{"f":4140,"w":0.37,"l":0.13,"t":0.37},{"f":4180,"w":0.40,"l":0.10,"t":0.26},{"f":4220,"w":0.36,"l":0.10,"t":0.28},{"f":4260,"w":0.40,"l":0.07,"t":0.39},{"f":4300,"w":0.37,"l":0.08,"t":0.36},{"f":4340,"w":0.40,"l":0.13,"t":0.38},{"f":4380,"w":0.37,"l":0.09,"t":0.35},{"f":4420,"w":0.39,"l":0.11,"t":0.40},{"f":4460,"w":0.36,"l":0.08,"t":0.38},{"f":4500,"w":0.38,"l":0.13,"t":0.38},{"f":4540,"w":0.35,"l":0.12,"t":0.36},{"f":4580,"w":0.37,"l":0.15,"t":0.38},{"f":4620,"w":0.34,"l":0.13,"t":0.36},{"f":4660,"w":0.36,"l":0.16,"t":0.40},{"f":4700,"w":0.33,"l":0.11,"t":0.39},{"f":4740,"w":0.35,"l":0.14,"t":0.36},{"f":4780,"w":0.31,"l":0.19,"t":0.39},{"f":4820,"w":0.31,"l":0.30,"t":0.38},{"f":4860,"w":0.31,"l":0.37,"t":0.41},{"f":4900,"w":0.35,"l":0.33,"t":0.42},{"f":4940,"w":0.34,"l":0.35,"t":0.41},{"f":4980,"w":0.38,"l":0.27,"t":0.39}
],
"means":[
{"p":"A","s":"wm","v":0.37746},{"p":"A","s":"lm","v":0.27964},
{"p":"B","s":"wm","v":0.39656},{"p":"B","s":"lm","v":0.29179},
{"p":"C","s":"wm","v":0.39321},{"p":"C","s":"lm","v":0.17238},
{"p":"D","s":"lm","v":0.27964},{"p":"D","s":"tm","v":0.40558},
{"p":"E","s":"lm","v":0.29179},{"p":"E","s":"tm","v":0.39853},
{"p":"F","s":"lm","v":0.17238},{"p":"F","s":"tm","v":0.37679}
]
},
"columns":2,
"spacing":{"row":42,"column":83},
"bounds":"flush",
"resolve":{"scale":{"color":"independent","strokeDash":"independent","x":"independent","y":"independent"},"legend":{"color":"independent","strokeDash":"independent"}},
"concat":[
{"width":265,"height":79,"title":{"text":"EGFR-c-Met dimer","offset":-27.5},"layer":[
{"data":{"name":"met"},"transform":[{"fold":["w","l"],"as":["s","v"]}],"mark":{"type":"line","strokeWidth":1,"clip":true},
"encoding":{"x":{"field":"f","type":"quantitative","scale":{"domain":[0,5000],"nice":false},"axis":{"values":[0,1000,2000,3000,4000,5000],"tickCount":10,"format":"d","title":"Frames","labelOverlap":false,"labelFlush":false}},
"y":{"field":"v","type":"quantitative","scale":{"domain":[0,0.6],"nice":false,"zero":false},"axis":{"values":[0,0.2,0.4,0.6],"tickCount":10,"labelExpr":"datum.value==0?'0':format(datum.value,'.1f')","title":"Matching rate of interfaces","labelOverlap":false,"labelFlush":false}},
"color":{"field":"s","type":"nominal","scale":{"domain":["w","wm","l","lm"],"range":["#9a9a9a","#9a9a9a","#4d97d6","#4d97d6"]},"legend":{"title":null,"legendX":208,"legendY":-31,"labelExpr":"datum.label=='w'?'wild type':datum.label=='wm'?'mean of wild type':datum.label=='l'?'L858R':datum.label=='lm'?'mean of L858R':datum.label=='t'?'L858R-T790M':'mean of L858R-T790M'"}},
"strokeDash":{"field":"s","type":"nominal","scale":{"domain":["w","wm","l","lm"],"range":[[1,0],[5,3],[1,0],[5,3]]},"legend":{"title":null,"legendX":208,"legendY":-31,"labelExpr":"datum.label=='w'?'wild type':datum.label=='wm'?'mean of wild type':datum.label=='l'?'L858R':datum.label=='lm'?'mean of L858R':datum.label=='t'?'L858R-T790M':'mean of L858R-T790M'"}}}},
{"data":{"name":"means"},"transform":[{"filter":"datum.p=='A'"}],"mark":{"type":"rule","strokeWidth":1.2},"encoding":{"y":{"field":"v","type":"quantitative"},"color":{"field":"s","type":"nominal"},"strokeDash":{"field":"s","type":"nominal"}}},
{"data":{"name":"means"},"transform":[{"filter":"datum.p=='A' && datum.s=='wm'"}],"mark":{"type":"text","text":"←","align":"left","baseline":"middle","dx":1,"fontSize":10,"color":"#8a8a8a"},"encoding":{"x":{"datum":5000},"y":{"field":"v","type":"quantitative"}}},
{"data":{"name":"means"},"transform":[{"filter":"datum.p=='A' && datum.s=='wm'"}],"mark":{"type":"text","align":"left","baseline":"middle","dx":11,"fontSize":8.5,"color":"#555555"},"encoding":{"x":{"datum":5000},"y":{"field":"v","type":"quantitative"},"text":{"field":"v","type":"quantitative","format":".5f"}}},
{"data":{"name":"means"},"transform":[{"filter":"datum.p=='A' && datum.s!='wm'"}],"mark":{"type":"text","text":"←","align":"left","baseline":"middle","dx":1,"fontSize":10},"encoding":{"x":{"datum":5000},"y":{"field":"v","type":"quantitative"},"color":{"field":"s","type":"nominal"}}},
{"data":{"name":"means"},"transform":[{"filter":"datum.p=='A' && datum.s!='wm'"}],"mark":{"type":"text","align":"left","baseline":"middle","dx":11,"fontSize":8.5,"fontWeight":"bold"},"encoding":{"x":{"datum":5000},"y":{"field":"v","type":"quantitative"},"text":{"field":"v","type":"quantitative","format":".5f"},"color":{"field":"s","type":"nominal"}}},
{"data":{"values":[{}]},"mark":{"type":"text","text":"(A)","fontSize":11,"fontWeight":"bold","dx":-10.5,"dy":-12,"align":"center","baseline":"middle","color":"#111"},"encoding":{"x":{"datum":0},"y":{"datum":0.6}}}
]},
{"width":265,"height":79,"title":{"text":"EGFR-c-Met dimer","offset":-27.5},"layer":[
{"data":{"name":"met"},"transform":[{"fold":["l","t"],"as":["s","v"]}],"mark":{"type":"line","strokeWidth":1,"clip":true},
"encoding":{"x":{"field":"f","type":"quantitative","scale":{"domain":[0,5000],"nice":false},"axis":{"values":[0,1000,2000,3000,4000,5000],"tickCount":10,"format":"d","title":"Frames","labelOverlap":false,"labelFlush":false}},
"y":{"field":"v","type":"quantitative","scale":{"domain":[0,0.6],"nice":false,"zero":false},"axis":{"values":[0,0.2,0.4,0.6],"tickCount":10,"labelExpr":"datum.value==0?'0':format(datum.value,'.1f')","title":"Matching rate of interfaces","labelOverlap":false,"labelFlush":false}},
"color":{"field":"s","type":"nominal","scale":{"domain":["l","lm","t","tm"],"range":["#4d97d6","#4d97d6","#e8401f","#e8401f"]},"legend":{"title":null,"legendX":195,"legendY":-31,"labelExpr":"datum.label=='w'?'wild type':datum.label=='wm'?'mean of wild type':datum.label=='l'?'L858R':datum.label=='lm'?'mean of L858R':datum.label=='t'?'L858R-T790M':'mean of L858R-T790M'"}},
"strokeDash":{"field":"s","type":"nominal","scale":{"domain":["l","lm","t","tm"],"range":[[1,0],[5,3],[1,0],[5,3]]},"legend":{"title":null,"legendX":195,"legendY":-31,"labelExpr":"datum.label=='w'?'wild type':datum.label=='wm'?'mean of wild type':datum.label=='l'?'L858R':datum.label=='lm'?'mean of L858R':datum.label=='t'?'L858R-T790M':'mean of L858R-T790M'"}}}},
{"data":{"name":"means"},"transform":[{"filter":"datum.p=='D'"}],"mark":{"type":"rule","strokeWidth":1.2},"encoding":{"y":{"field":"v","type":"quantitative"},"color":{"field":"s","type":"nominal"},"strokeDash":{"field":"s","type":"nominal"}}},
{"data":{"name":"means"},"transform":[{"filter":"datum.p=='D'"}],"mark":{"type":"text","text":"←","align":"left","baseline":"middle","dx":1,"fontSize":10},"encoding":{"x":{"datum":5000},"y":{"field":"v","type":"quantitative"},"color":{"field":"s","type":"nominal"}}},
{"data":{"name":"means"},"transform":[{"filter":"datum.p=='D'"}],"mark":{"type":"text","align":"left","baseline":"middle","dx":11,"fontSize":8.5,"fontWeight":"bold"},"encoding":{"x":{"datum":5000},"y":{"field":"v","type":"quantitative"},"text":{"field":"v","type":"quantitative","format":".5f"},"color":{"field":"s","type":"nominal"}}},
{"data":{"values":[{}]},"mark":{"type":"text","text":"(D)","fontSize":11,"fontWeight":"bold","dx":-10.5,"dy":-12,"align":"center","baseline":"middle","color":"#111"},"encoding":{"x":{"datum":0},"y":{"datum":0.6}}}
]},
{"width":265,"height":79,"title":{"text":"EGFR-ErbB2 dimer","offset":-21.5},"layer":[
{"data":{"name":"erb"},"transform":[{"fold":["w","l"],"as":["s","v"]}],"mark":{"type":"line","strokeWidth":1,"clip":true},
"encoding":{"x":{"field":"f","type":"quantitative","scale":{"domain":[0,5000],"nice":false},"axis":{"values":[0,1000,2000,3000,4000,5000],"tickCount":10,"format":"d","title":"Frames","labelOverlap":false,"labelFlush":false}},
"y":{"field":"v","type":"quantitative","scale":{"domain":[0.2,0.6],"nice":false,"zero":false},"axis":{"values":[0.2,0.3,0.4,0.5,0.6],"tickCount":10,"labelExpr":"format(datum.value,'.1f')","title":"Matching rate of interfaces","labelOverlap":false,"labelFlush":false}},
"color":{"field":"s","type":"nominal","scale":{"domain":["w","wm","l","lm"],"range":["#9a9a9a","#9a9a9a","#4d97d6","#4d97d6"]},"legend":{"title":null,"legendX":208,"legendY":-25,"labelExpr":"datum.label=='w'?'wild type':datum.label=='wm'?'mean of wild type':datum.label=='l'?'L858R':datum.label=='lm'?'mean of L858R':datum.label=='t'?'L858R-T790M':'mean of L858R-T790M'"}},
"strokeDash":{"field":"s","type":"nominal","scale":{"domain":["w","wm","l","lm"],"range":[[1,0],[5,3],[1,0],[5,3]]},"legend":{"title":null,"legendX":208,"legendY":-25,"labelExpr":"datum.label=='w'?'wild type':datum.label=='wm'?'mean of wild type':datum.label=='l'?'L858R':datum.label=='lm'?'mean of L858R':datum.label=='t'?'L858R-T790M':'mean of L858R-T790M'"}}}},
{"data":{"name":"means"},"transform":[{"filter":"datum.p=='B'"}],"mark":{"type":"rule","strokeWidth":1.2},"encoding":{"y":{"field":"v","type":"quantitative"},"color":{"field":"s","type":"nominal"},"strokeDash":{"field":"s","type":"nominal"}}},
{"data":{"name":"means"},"transform":[{"filter":"datum.p=='B' && datum.s=='wm'"}],"mark":{"type":"text","text":"←","align":"left","baseline":"middle","dx":1,"fontSize":10,"color":"#8a8a8a"},"encoding":{"x":{"datum":5000},"y":{"field":"v","type":"quantitative"}}},
{"data":{"name":"means"},"transform":[{"filter":"datum.p=='B' && datum.s=='wm'"}],"mark":{"type":"text","align":"left","baseline":"middle","dx":11,"fontSize":8.5,"color":"#555555"},"encoding":{"x":{"datum":5000},"y":{"field":"v","type":"quantitative"},"text":{"field":"v","type":"quantitative","format":".5f"}}},
{"data":{"name":"means"},"transform":[{"filter":"datum.p=='B' && datum.s!='wm'"}],"mark":{"type":"text","text":"←","align":"left","baseline":"middle","dx":1,"fontSize":10},"encoding":{"x":{"datum":5000},"y":{"field":"v","type":"quantitative"},"color":{"field":"s","type":"nominal"}}},
{"data":{"name":"means"},"transform":[{"filter":"datum.p=='B' && datum.s!='wm'"}],"mark":{"type":"text","align":"left","baseline":"middle","dx":11,"fontSize":8.5,"fontWeight":"bold"},"encoding":{"x":{"datum":5000},"y":{"field":"v","type":"quantitative"},"text":{"field":"v","type":"quantitative","format":".5f"},"color":{"field":"s","type":"nominal"}}},
{"data":{"values":[{}]},"mark":{"type":"text","text":"(B)","fontSize":11,"fontWeight":"bold","dx":-10.5,"dy":-12,"align":"center","baseline":"middle","color":"#111"},"encoding":{"x":{"datum":0},"y":{"datum":0.6}}}
]},
{"width":265,"height":79,"title":{"text":"EGFR-ErbB2 dimer","offset":-21.5},"layer":[
{"data":{"name":"erb"},"transform":[{"fold":["l","t"],"as":["s","v"]}],"mark":{"type":"line","strokeWidth":1,"clip":true},
"encoding":{"x":{"field":"f","type":"quantitative","scale":{"domain":[0,5000],"nice":false},"axis":{"values":[0,1000,2000,3000,4000,5000],"tickCount":10,"format":"d","title":"Frames","labelOverlap":false,"labelFlush":false}},
"y":{"field":"v","type":"quantitative","scale":{"domain":[0.2,0.6],"nice":false,"zero":false},"axis":{"values":[0.2,0.3,0.4,0.5,0.6],"tickCount":10,"labelExpr":"format(datum.value,'.1f')","title":"Matching rate of interfaces","labelOverlap":false,"labelFlush":false}},
"color":{"field":"s","type":"nominal","scale":{"domain":["l","lm","t","tm"],"range":["#4d97d6","#4d97d6","#e8401f","#e8401f"]},"legend":{"title":null,"legendX":195,"legendY":-25,"labelExpr":"datum.label=='w'?'wild type':datum.label=='wm'?'mean of wild type':datum.label=='l'?'L858R':datum.label=='lm'?'mean of L858R':datum.label=='t'?'L858R-T790M':'mean of L858R-T790M'"}},
"strokeDash":{"field":"s","type":"nominal","scale":{"domain":["l","lm","t","tm"],"range":[[1,0],[5,3],[1,0],[5,3]]},"legend":{"title":null,"legendX":195,"legendY":-25,"labelExpr":"datum.label=='w'?'wild type':datum.label=='wm'?'mean of wild type':datum.label=='l'?'L858R':datum.label=='lm'?'mean of L858R':datum.label=='t'?'L858R-T790M':'mean of L858R-T790M'"}}}},
{"data":{"name":"means"},"transform":[{"filter":"datum.p=='E'"}],"mark":{"type":"rule","strokeWidth":1.2},"encoding":{"y":{"field":"v","type":"quantitative"},"color":{"field":"s","type":"nominal"},"strokeDash":{"field":"s","type":"nominal"}}},
{"data":{"name":"means"},"transform":[{"filter":"datum.p=='E'"}],"mark":{"type":"text","text":"←","align":"left","baseline":"middle","dx":1,"fontSize":10},"encoding":{"x":{"datum":5000},"y":{"field":"v","type":"quantitative"},"color":{"field":"s","type":"nominal"}}},
{"data":{"name":"means"},"transform":[{"filter":"datum.p=='E'"}],"mark":{"type":"text","align":"left","baseline":"middle","dx":11,"fontSize":8.5,"fontWeight":"bold"},"encoding":{"x":{"datum":5000},"y":{"field":"v","type":"quantitative"},"text":{"field":"v","type":"quantitative","format":".5f"},"color":{"field":"s","type":"nominal"}}},
{"data":{"values":[{}]},"mark":{"type":"text","text":"(E)","fontSize":11,"fontWeight":"bold","dx":-10.5,"dy":-12,"align":"center","baseline":"middle","color":"#111"},"encoding":{"x":{"datum":0},"y":{"datum":0.6}}}
]},
{"width":265,"height":79,"title":{"text":"EGFR-IGF-1R dimer","offset":-23.5},"layer":[
{"data":{"name":"igf"},"transform":[{"fold":["w","l"],"as":["s","v"]}],"mark":{"type":"line","strokeWidth":1,"clip":true},
"encoding":{"x":{"field":"f","type":"quantitative","scale":{"domain":[0,5000],"nice":false},"axis":{"values":[0,1000,2000,3000,4000,5000],"tickCount":10,"format":"d","title":"Frames","labelOverlap":false,"labelFlush":false}},
"y":{"field":"v","type":"quantitative","scale":{"domain":[-0.1,0.7],"nice":false,"zero":false},"axis":{"values":[0,0.2,0.4,0.6],"tickCount":10,"labelExpr":"datum.value==0?'0':format(datum.value,'.1f')","title":"Matching rate of interfaces","labelOverlap":false,"labelFlush":false}},
"color":{"field":"s","type":"nominal","scale":{"domain":["w","wm","l","lm"],"range":["#9a9a9a","#9a9a9a","#4d97d6","#4d97d6"]},"legend":{"title":null,"legendX":208,"legendY":-27,"labelExpr":"datum.label=='w'?'wild type':datum.label=='wm'?'mean of wild type':datum.label=='l'?'L858R':datum.label=='lm'?'mean of L858R':datum.label=='t'?'L858R-T790M':'mean of L858R-T790M'"}},
"strokeDash":{"field":"s","type":"nominal","scale":{"domain":["w","wm","l","lm"],"range":[[1,0],[5,3],[1,0],[5,3]]},"legend":{"title":null,"legendX":208,"legendY":-27,"labelExpr":"datum.label=='w'?'wild type':datum.label=='wm'?'mean of wild type':datum.label=='l'?'L858R':datum.label=='lm'?'mean of L858R':datum.label=='t'?'L858R-T790M':'mean of L858R-T790M'"}}}},
{"data":{"name":"means"},"transform":[{"filter":"datum.p=='C'"}],"mark":{"type":"rule","strokeWidth":1.2},"encoding":{"y":{"field":"v","type":"quantitative"},"color":{"field":"s","type":"nominal"},"strokeDash":{"field":"s","type":"nominal"}}},
{"data":{"name":"means"},"transform":[{"filter":"datum.p=='C' && datum.s=='wm'"}],"mark":{"type":"text","text":"←","align":"left","baseline":"middle","dx":1,"fontSize":10,"color":"#8a8a8a"},"encoding":{"x":{"datum":5000},"y":{"field":"v","type":"quantitative"}}},
{"data":{"name":"means"},"transform":[{"filter":"datum.p=='C' && datum.s=='wm'"}],"mark":{"type":"text","align":"left","baseline":"middle","dx":11,"fontSize":8.5,"color":"#555555"},"encoding":{"x":{"datum":5000},"y":{"field":"v","type":"quantitative"},"text":{"field":"v","type":"quantitative","format":".5f"}}},
{"data":{"name":"means"},"transform":[{"filter":"datum.p=='C' && datum.s!='wm'"}],"mark":{"type":"text","text":"←","align":"left","baseline":"middle","dx":1,"fontSize":10},"encoding":{"x":{"datum":5000},"y":{"field":"v","type":"quantitative"},"color":{"field":"s","type":"nominal"}}},
{"data":{"name":"means"},"transform":[{"filter":"datum.p=='C' && datum.s!='wm'"}],"mark":{"type":"text","align":"left","baseline":"middle","dx":11,"fontSize":8.5,"fontWeight":"bold"},"encoding":{"x":{"datum":5000},"y":{"field":"v","type":"quantitative"},"text":{"field":"v","type":"quantitative","format":".5f"},"color":{"field":"s","type":"nominal"}}},
{"data":{"values":[{}]},"mark":{"type":"text","text":"(C)","fontSize":11,"fontWeight":"bold","dx":-10.5,"dy":-12,"align":"center","baseline":"middle","color":"#111"},"encoding":{"x":{"datum":0},"y":{"datum":0.7}}}
]},
{"width":265,"height":79,"title":{"text":"EGFR-IGF-1R dimer","offset":-23.5},"layer":[
{"data":{"name":"igf"},"transform":[{"fold":["l","t"],"as":["s","v"]}],"mark":{"type":"line","strokeWidth":1,"clip":true},
"encoding":{"x":{"field":"f","type":"quantitative","scale":{"domain":[0,5000],"nice":false},"axis":{"values":[0,1000,2000,3000,4000,5000],"tickCount":10,"format":"d","title":"Frames","labelOverlap":false,"labelFlush":false}},
"y":{"field":"v","type":"quantitative","scale":{"domain":[-0.1,0.7],"nice":false,"zero":false},"axis":{"values":[0,0.2,0.4,0.6],"tickCount":10,"labelExpr":"datum.value==0?'0':format(datum.value,'.1f')","title":"Matching rate of interfaces","labelOverlap":false,"labelFlush":false}},
"color":{"field":"s","type":"nominal","scale":{"domain":["l","lm","t","tm"],"range":["#4d97d6","#4d97d6","#e8401f","#e8401f"]},"legend":{"title":null,"legendX":195,"legendY":-27,"labelExpr":"datum.label=='w'?'wild type':datum.label=='wm'?'mean of wild type':datum.label=='l'?'L858R':datum.label=='lm'?'mean of L858R':datum.label=='t'?'L858R-T790M':'mean of L858R-T790M'"}},
"strokeDash":{"field":"s","type":"nominal","scale":{"domain":["l","lm","t","tm"],"range":[[1,0],[5,3],[1,0],[5,3]]},"legend":{"title":null,"legendX":195,"legendY":-27,"labelExpr":"datum.label=='w'?'wild type':datum.label=='wm'?'mean of wild type':datum.label=='l'?'L858R':datum.label=='lm'?'mean of L858R':datum.label=='t'?'L858R-T790M':'mean of L858R-T790M'"}}}},
{"data":{"name":"means"},"transform":[{"filter":"datum.p=='F'"}],"mark":{"type":"rule","strokeWidth":1.2},"encoding":{"y":{"field":"v","type":"quantitative"},"color":{"field":"s","type":"nominal"},"strokeDash":{"field":"s","type":"nominal"}}},
{"data":{"name":"means"},"transform":[{"filter":"datum.p=='F'"}],"mark":{"type":"text","text":"←","align":"left","baseline":"middle","dx":1,"fontSize":10},"encoding":{"x":{"datum":5000},"y":{"field":"v","type":"quantitative"},"color":{"field":"s","type":"nominal"}}},
{"data":{"name":"means"},"transform":[{"filter":"datum.p=='F'"}],"mark":{"type":"text","align":"left","baseline":"middle","dx":11,"fontSize":8.5,"fontWeight":"bold"},"encoding":{"x":{"datum":5000},"y":{"field":"v","type":"quantitative"},"text":{"field":"v","type":"quantitative","format":".5f"},"color":{"field":"s","type":"nominal"}}},
{"data":{"values":[{}]},"mark":{"type":"text","text":"(F)","fontSize":11,"fontWeight":"bold","dx":-10.5,"dy":-12,"align":"center","baseline":"middle","color":"#111"},"encoding":{"x":{"datum":0},"y":{"datum":0.7}}}
]}
],
"config":{
"font":"Liberation Sans",
"view":{"stroke":"#3a3a3a","strokeWidth":0.8},
"axis":{"grid":false,"domain":false,"labelFontSize":9,"titleFontSize":10,"titleFontWeight":"normal","labelColor":"#262626","titleColor":"#262626","tickColor":"#3a3a3a","tickSize":-3,"labelPadding":6,"titlePadding":1,"labelOverlap":false,"labelFlush":false,"labelFont":"Liberation Sans","titleFont":"Liberation Sans"},
"axisX":{"titlePadding":3},
"title":{"fontSize":9.5,"fontWeight":"normal","color":"#111","font":"Liberation Sans"},
"legend":{"orient":"none","symbolType":"stroke","symbolSize":729,"symbolStrokeWidth":1.5,"clipHeight":10,"rowPadding":0.7,"labelFontSize":7.5,"labelColor":"#111","labelOffset":3,"padding":3,"strokeColor":"#3a3a3a","fillColor":"white","cornerRadius":0,"labelLimit":200,"labelFont":"Liberation Sans"}
}
}
